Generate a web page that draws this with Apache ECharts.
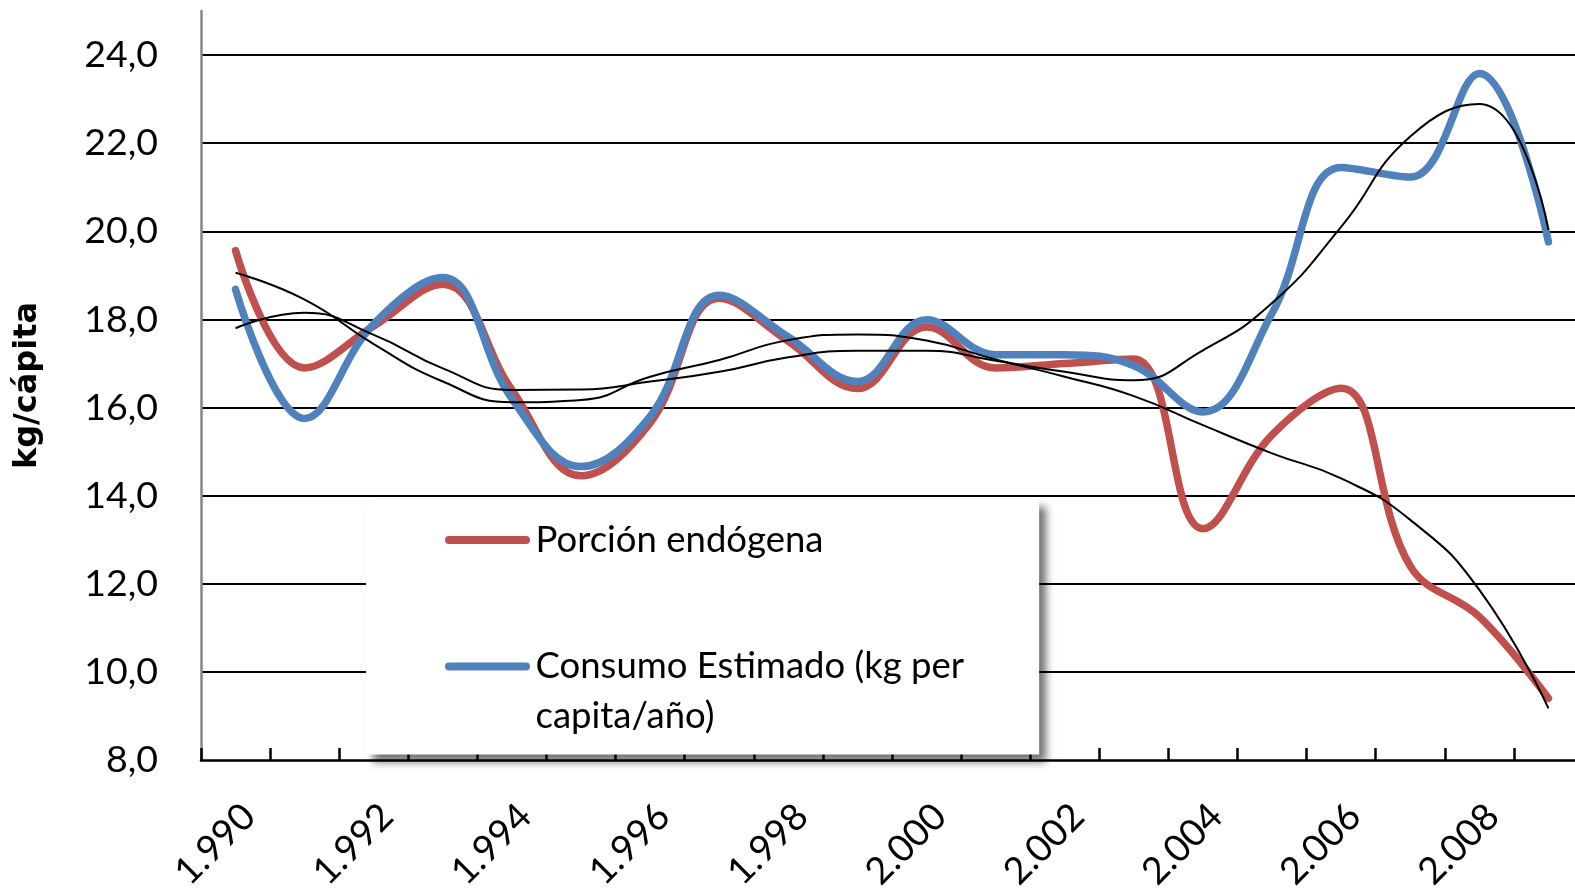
<!DOCTYPE html>
<html>
<head>
<meta charset="utf-8">
<script src="https://cdn.jsdelivr.net/npm/echarts@6/dist/echarts.min.js"></script>
<style>
html,body{margin:0;padding:0;background:#fff;}
#chart{width:1575px;height:890px;}
</style>
</head>
<body>
<div id="chart"></div>
<script>
const categories = ['1.990','1.991','1.992','1.993','1.994','1.995','1.996','1.997','1.998','1.999',
                    '2.000','2.001','2.002','2.003','2.004','2.005','2.006','2.007','2.008','2.009'];
const porcionEndogena = [19.56, 16.9, 17.85, 18.8, 16.4, 14.45, 15.65, 18.48, 17.5, 16.43,
                         17.83, 16.9, 17.0, 17.1, 13.25, 15.38, 16.44, 12.4, 11.25, 9.4];
const consumoEstimado = [18.68, 15.75, 17.9, 18.95, 16.2, 14.66, 15.8, 18.55, 17.6, 16.59,
                         17.99, 17.2, 17.2, 16.95, 15.9, 18.14, 21.45, 21.23, 23.58, 19.76];
const tendenciaEndogena = [19.06, 18.45, 17.44, 16.59, 16.12, 16.17, 16.7, 17.08, 17.53, 17.66,
                           17.52, 17.09, 16.7, 16.26, 15.6, 14.96, 14.39, 13.45, 11.86, 9.17];
const tendenciaConsumo = [17.8, 18.15, 17.65, 16.89, 16.4, 16.41, 16.59, 16.81, 17.14, 17.29,
                          17.29, 17.06, 16.81, 16.62, 17.3, 18.37, 20.1, 22.15, 22.89, 20.03];
const nameRed = 'Porción endógena';
const nameBlue = 'Consumo Estimado (kg per capita/año)';

const chart = echarts.init(document.getElementById('chart'), null, {renderer: 'canvas'});
const smooth = 0.4;
chart.setOption({
  animation: false,
  backgroundColor: '#ffffff',
  grid: {left: 201, top: 11, height: 749, width: 1382, containLabel: false, outerBoundsMode: 'none'},
  xAxis: {
    type: 'category',
    data: categories,
    boundaryGap: true,
    axisLine: {onZero: false, lineStyle: {color: '#000', width: 2.5}},
    axisTick: {show: true, inside: true, length: 12, interval: 0, lineStyle: {color: '#000', width: 2.5}},
    axisLabel: {
      interval: 1, rotate: 45, align: 'right', verticalAlign: 'top', margin: 37,
      fontFamily: 'Lato', fontSize: 37.5, color: '#000'
    },
    splitLine: {show: false}
  },
  yAxis: {
    type: 'value',
    min: 8, max: 25, interval: 2,
    name: 'kg/cápita',
    nameLocation: 'middle',
    nameRotate: 90,
    nameGap: 157,
    nameTextStyle: {fontFamily: 'DejaVu Sans', fontWeight: 'bold', fontSize: 32, color: '#000'},
    axisLine: {show: true, lineStyle: {color: '#868686', width: 2.5}},
    axisTick: {show: false},
    axisLabel: {
      margin: 43, fontFamily: 'Lato', fontSize: 37.5, color: '#000',
      showMaxLabel: false,
      formatter: v => v.toFixed(1).replace('.', ',')
    },
    splitLine: {show: true, showMinLine: false, showMaxLine: false, lineStyle: {color: '#000', width: 2}}
  },
  legend: {
    orient: 'vertical',
    left: 366, top: 500,
    align: 'left',
    selectedMode: false,
    icon: 'path://M4,0 L81,0 A4,4 0 0 1 81,8 L4,8 A4,4 0 0 1 4,0 Z',
    itemWidth: 86, itemHeight: 8, itemGap: 26.5,
    padding: [15, 75, 13, 79],
    backgroundColor: '#ffffff',
    shadowBlur: 8, shadowColor: 'rgba(0,0,0,0.55)', shadowOffsetX: 7, shadowOffsetY: 7,
    textStyle: {fontFamily: 'Lato', fontSize: 36.5, color: '#000', lineHeight: 50},
    data: [nameRed, nameBlue],
    formatter: n => n === nameBlue ? ' \nConsumo Estimado (kg per\ncapita/año)' : n
  },
  series: [
    {name: nameRed, type: 'line', data: porcionEndogena, smooth: smooth, symbol: 'none',
     lineStyle: {color: '#C0504D', width: 7.5, cap: 'round', join: 'round'}, itemStyle: {color: '#C0504D'}},
    {name: nameBlue, type: 'line', data: consumoEstimado, smooth: smooth, symbol: 'none',
     lineStyle: {color: '#4F81BD', width: 7.5, cap: 'round', join: 'round'}, itemStyle: {color: '#4F81BD'}},
    {name: 'Tendencia porción endógena', type: 'line', data: tendenciaEndogena, smooth: 0.5, symbol: 'none',
     lineStyle: {color: '#000', width: 2}, itemStyle: {color: '#000'}},
    {name: 'Tendencia consumo estimado', type: 'line', data: tendenciaConsumo, smooth: 0.5, symbol: 'none',
     lineStyle: {color: '#000', width: 2}, itemStyle: {color: '#000'}}
  ]
});
</script>
</body>
</html>
